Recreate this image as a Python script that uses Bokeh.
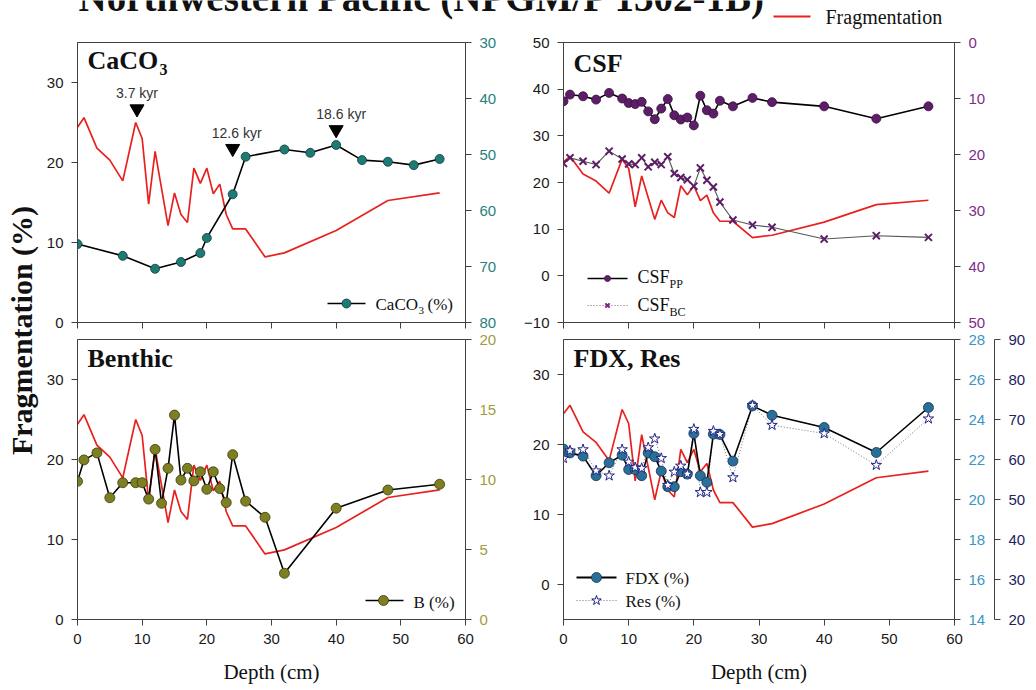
import math
from bokeh.plotting import figure
from bokeh.models import Range1d, LinearAxis, FixedTicker
from bokeh.layouts import column, row
from bokeh.embed import file_html
from bokeh.resources import INLINE
from bokeh.core.properties import value

SERIF = "Liberation Serif"
SANS = "Liberation Sans"

# ---------------- data ----------------
frag_depth = [0, 1, 3, 5, 7, 9, 10, 11, 12, 14, 15, 16, 17, 18, 19, 20, 21, 22, 23, 24, 26, 29, 32, 40, 48, 56]
frag = [24.4, 25.6, 21.8, 20.3, 17.7, 25.0, 23.0, 14.8, 21.4, 12.1, 16.2, 13.5, 12.5, 19.3, 17.4, 19.3,
        16.1, 17.3, 13.5, 11.7, 11.7, 8.2, 8.7, 11.5, 15.25, 16.2]

caco3_depth = [0, 7, 12, 16, 19, 20, 24, 26, 32, 36, 40, 44, 48, 52, 56]
caco3 = [66.0, 68.1, 70.4, 69.2, 67.6, 64.9, 57.1, 50.4, 49.1, 49.7, 48.3, 51.0, 51.3, 51.9, 50.8]

kyr_depth = [9.2, 24.0, 40.0]
kyr_level = [26.7, 21.75, 24.1]
kyr_label = ["3.7 kyr", "12.6 kyr", "18.6 kyr"]

depth = [0, 1, 3, 5, 7, 9, 10, 11, 12, 13, 14, 15, 16, 17, 18, 19, 20, 21, 22, 23, 24, 26, 29, 32, 40, 48, 56]
csf_pp = [10.5, 9.3, 9.6, 10.2, 9.0, 10.0, 10.8, 11.0, 10.6, 12.3, 13.7, 11.8, 10.1, 13.0, 13.75, 13.4, 14.8,
          9.5, 12.1, 12.7, 10.4, 11.4, 9.9, 10.65, 11.4, 13.6, 11.4]
csf_bc = [21.6, 20.6, 21.2, 21.8, 19.4, 20.8, 21.7, 21.8, 20.6, 22.2, 21.4, 21.8, 20.4, 23.4, 24.1, 24.5, 25.65,
          22.4, 24.6, 25.8, 28.5, 31.7, 32.6, 33.0, 35.1, 34.5, 34.8]
benthic = [9.87, 11.4, 11.9, 8.7, 9.77, 9.77, 9.77, 8.6, 12.15, 8.3, 10.8, 14.6, 9.96, 10.8, 9.9, 10.55, 9.3,
           10.55, 9.35, 8.35, 11.77, 8.45, 7.3, 3.3, 7.95, 9.25, 9.66]
fdx = [22.52, 22.33, 22.17, 21.19, 21.84, 22.22, 21.5, 21.5, 21.19, 22.33, 22.14, 21.42, 20.64, 20.64, 21.39,
       21.27, 23.3, 21.19, 20.86, 23.27, 23.25, 21.92, 24.68, 24.21, 23.6, 22.35, 24.6]
res = [60.3, 62.2, 62.5, 57.2, 55.95, 62.5, 59.4, 58.0, 57.8, 63.0, 65.2, 60.3, 53.6, 56.9, 58.4, 56.4, 67.6,
       51.8, 51.8, 67.1, 66.3, 55.5, 73.55, 68.6, 66.5, 58.6, 70.2]

depth_ticks = [0, 10, 20, 30, 40, 50, 60]

# ---------------- styles ----------------
AX = "#404040"
RED = "#e8201e"
TEAL_AX = "#2b7f7a"
PURPLE_AX = "#7a2e86"
OLIVE_AX = "#a09c3a"
BLUE_AX = "#3b95c4"
NAVY_AX = "#23235e"
CACO3_FILL = "#1e7b74"
CSF_FILL = "#5c1e66"
B_FILL = "#7d7f22"
FDX_FILL = "#2a6f9a"
RES_LINE = "#222288"


def style_axis(ax, color="#1a1a1a", labels=True, ticks=None):
    ax.axis_line_color = AX
    ax.axis_line_width = 1
    ax.major_tick_line_color = AX
    ax.major_tick_out = 6
    ax.major_tick_in = 0
    ax.minor_tick_line_color = None
    ax.major_label_text_font = SANS
    ax.major_label_text_font_size = "15px" if labels else "1px"
    ax.major_label_text_color = color
    ax.major_label_standoff = 8 if labels else 0
    if ticks is not None:
        ax.ticker = FixedTicker(ticks=ticks)
        if not labels:
            ax.major_label_overrides = {t: "" for t in ticks}


class Panel:
    def __init__(self, width, height, bl, br, bt, bb, yr, yticks, show_x):
        self.fw = width - bl - br
        self.fh = height - bt - bb
        self.xr = (0, 60)
        self.yr = yr
        p = figure(width=width, height=height, x_range=Range1d(0, 60), y_range=Range1d(*yr),
                   output_backend="svg", toolbar_location=None, title=None,
                   min_border_left=bl, min_border_right=br, min_border_top=bt, min_border_bottom=bb)
        p.xgrid.visible = False
        p.ygrid.visible = False
        p.outline_line_color = AX
        p.outline_line_width = 1
        p.background_fill_color = "white"
        p.border_fill_color = "white"
        style_axis(p.xaxis[0], labels=show_x, ticks=depth_ticks)
        style_axis(p.yaxis[0], ticks=yticks)
        if show_x:
            p.xaxis[0].axis_label = "Depth (cm)"
            p.xaxis[0].axis_label_text_font = SERIF
            p.xaxis[0].axis_label_text_font_style = "normal"
            p.xaxis[0].axis_label_text_font_size = "21px"
            p.xaxis[0].axis_label_text_color = "#111111"
            p.xaxis[0].axis_label_standoff = 13
        self.p = p

    def d(self, px, py):
        # frame-relative pixels -> left-axis data coordinates (for legend samples)
        x = self.xr[0] + px / self.fw * (self.xr[1] - self.xr[0])
        y = self.yr[1] - py / self.fh * (self.yr[1] - self.yr[0])
        return x, y

    def text(self, px, py, txt, size, bold=False, color="#111111", font=SERIF, align="left"):
        self.p.text(x=[self.xr[0]], y=[self.yr[1]], text=[txt], x_offset=px, y_offset=py,
                    text_font=value(font), text_font_size=size,
                    text_font_style="bold" if bold else "normal",
                    text_color=color, text_align=align, text_baseline="alphabetic")

    def right_axis(self, name, rng, ticks, color):
        self.p.extra_y_ranges[name] = Range1d(*rng)
        ax = LinearAxis(y_range_name=name)
        style_axis(ax, color=color, ticks=ticks)
        self.p.add_layout(ax, "right")
        return ax

    def frag(self):
        self.p.line(frag_depth, frag, line_color=RED, line_width=1.7)


TOP_H, BOT_H = 299, 359
LW, RW = 475, 521

# ---------- Top-left: CaCO3 ----------
tl = Panel(LW, TOP_H, 37, 50, 10, 9, (0, 35), [0, 10, 20, 30], False)
tl.right_axis("r", (80, 30), [30, 40, 50, 60, 70, 80], TEAL_AX)
tl.frag()
tl.p.line(caco3_depth, caco3, y_range_name="r", line_color="black", line_width=1.6)
tl.p.scatter(caco3_depth, caco3, y_range_name="r", marker="circle", size=9,
             fill_color=CACO3_FILL, line_color="#0d3b37", line_width=0.8)
tl.p.scatter(kyr_depth, kyr_level, marker="inverted_triangle", size=14, fill_color="black", line_color="black")
tl.p.text(x=kyr_depth, y=kyr_level, text=kyr_label, y_offset=-16, x_offset=[0, 4, 5],
          text_font=value(SANS), text_font_size="14px", text_color="#333333",
          text_align="center", text_baseline="alphabetic")
tl.text(10, 18, "CaCO", "26px", bold=True)
tl.text(82, 27, "3", "16px", bold=True)
x1, y1 = tl.d(250, 261)
x2, _ = tl.d(288, 261)
xm, _ = tl.d(269, 261)
tl.p.line([x1, x2], [y1, y1], line_color="black", line_width=1.6)
tl.p.scatter([xm], [y1], marker="circle", size=9, fill_color=CACO3_FILL, line_color="#0d3b37", line_width=0.8)
tl.text(298, 262, "CaCO", "17px")
tl.text(341, 268, "3", "11px")
tl.text(350, 262, "(%)", "17px")

# ---------- Top-right: CSF ----------
tr = Panel(RW, TOP_H, 48, 82, 10, 9, (-10, 50), [-10, 0, 10, 20, 30, 40, 50], False)
tr.right_axis("r", (50, 0), [0, 10, 20, 30, 40, 50], PURPLE_AX)
tr.frag()
tr.p.line(depth, csf_pp, y_range_name="r", line_color="black", line_width=1.6)
tr.p.scatter(depth, csf_pp, y_range_name="r", marker="circle", size=9,
             fill_color=CSF_FILL, line_color="#3a0f40", line_width=0.8)
tr.p.line(depth, csf_bc, y_range_name="r", line_color="#555555", line_width=1.1)
tr.p.scatter(depth, csf_bc, y_range_name="r", marker="x", size=10, line_color=CSF_FILL, line_width=2)
x1, y1 = tr.d(24, 236)
x2, _ = tr.d(64, 236)
xm, _ = tr.d(44, 236)
tr.p.line([x1, x2], [y1, y1], line_color="black", line_width=1.3)
tr.p.scatter([xm], [y1], marker="circle", size=6, fill_color=CSF_FILL, line_color=CSF_FILL)
_, y2 = tr.d(24, 263)
tr.p.line([x1, x2], [y2, y2], line_color="#666666", line_width=1, line_dash="1 2")
tr.p.scatter([xm], [y2], marker="x", size=6, line_color="#8a1a8a", line_width=2)
tr.text(74, 234, "CSF", "18px")
tr.text(106, 241, "PP", "12px")
tr.text(74, 262, "CSF", "18px")
tr.text(106, 269, "BC", "12px")
tr.text(10, 21, "CSF", "26px", bold=True)

# ---------- Bottom-left: Benthic ----------
bl = Panel(LW, BOT_H, 37, 50, 8, 71, (0, 35), [0, 10, 20, 30], True)
bl.right_axis("r", (0, 20), [0, 5, 10, 15, 20], OLIVE_AX)
bl.frag()
bl.p.line(depth, benthic, y_range_name="r", line_color="black", line_width=1.6)
bl.p.scatter(depth, benthic, y_range_name="r", marker="circle", size=10,
             fill_color=B_FILL, line_color="#3a3a08", line_width=0.8)
x1, y1 = bl.d(288, 261)
x2, _ = bl.d(326, 261)
xm, _ = bl.d(306, 261)
bl.p.line([x1, x2], [y1, y1], line_color="black", line_width=1.6)
bl.p.scatter([xm], [y1], marker="circle", size=10, fill_color=B_FILL, line_color="#3a3a08", line_width=0.8)
bl.text(336, 263, "B (%)", "17px")
bl.text(10, 19, "Benthic", "26px", bold=True)

# ---------- Bottom-right: FDX, Res ----------
br = Panel(RW, BOT_H, 48, 82, 8, 71, (-5, 35), [0, 10, 20, 30], True)
a1 = br.right_axis("r", (14, 28), list(range(14, 29, 2)), BLUE_AX)
a1.axis_label = "."
a1.axis_label_text_alpha = 0
a1.axis_label_text_font_size = "4px"
a1.axis_label_standoff = 0
a2 = br.right_axis("res", (20, 90), list(range(20, 91, 10)), NAVY_AX)
br.frag()
br.p.line(depth, res, y_range_name="res", line_color="#777777", line_width=1, line_dash="1 2")
br.p.line(depth, fdx, y_range_name="r", line_color="black", line_width=1.6)
br.p.scatter(depth, fdx, y_range_name="r", marker="circle", size=10,
             fill_color=FDX_FILL, line_color="#0f3550", line_width=0.8)
br.p.scatter(depth, res, y_range_name="res", marker="star", size=11,
             fill_color="white", line_color=RES_LINE, line_width=1)
x1, y1 = br.d(13, 238)
x2, _ = br.d(53, 238)
xm, _ = br.d(33, 238)
br.p.line([x1, x2], [y1, y1], line_color="black", line_width=1.8)
br.p.scatter([xm], [y1], marker="circle", size=10, fill_color=FDX_FILL, line_color="#0f3550", line_width=0.8)
_, y2 = br.d(13, 261)
br.p.line([x1, x2], [y2, y2], line_color="#777777", line_width=1, line_dash="1 2")
br.p.scatter([xm], [y2], marker="star", size=10, fill_color="white", line_color=RES_LINE, line_width=1)
br.text(62, 239, "FDX (%)", "17px")
br.text(62, 262, "Res (%)", "17px")
br.text(10, 19, "FDX, Res", "26px", bold=True)

# ---------- header ----------
hdr = figure(width=1036, height=32, x_range=Range1d(0, 1036), y_range=Range1d(32, 0),
             output_backend="svg", toolbar_location=None, title=None, min_border=0)
hdr.axis.visible = False
hdr.grid.visible = False
hdr.outline_line_color = None
hdr.text(x=[78], y=[-3], text=["Northwestern Pacific (NPGM/P 1302-1B)"],
         text_font=value(SERIF), text_font_size="39px", text_font_style="bold",
         text_color="#111111", text_align="left", text_baseline="alphabetic")
hdr.line([773, 810], [16, 16], line_color=RED, line_width=1.8)
hdr.text(x=[825], y=[16], text=["Fragmentation"], text_font=value(SERIF), text_font_size="20px",
         text_color="#111111", text_align="left", text_baseline="alphabetic")

# ---------- left label ----------
lab = figure(width=40, height=658, x_range=Range1d(0, 40), y_range=Range1d(690, 32),
             output_backend="svg", toolbar_location=None, title=None, min_border=0)
lab.axis.visible = False
lab.grid.visible = False
lab.outline_line_color = None
lab.text(x=[21], y=[330], text=["Fragmentation (%)"], angle=math.pi / 2,
         text_font=value(SERIF), text_font_size="30px", text_font_style="bold",
         text_color="#111111", text_align="center", text_baseline="middle")

layout = column(hdr, row(lab, column(row(tl.p, tr.p), row(bl.p, br.p))))

open("out.html", "w").write(file_html(layout, INLINE))
